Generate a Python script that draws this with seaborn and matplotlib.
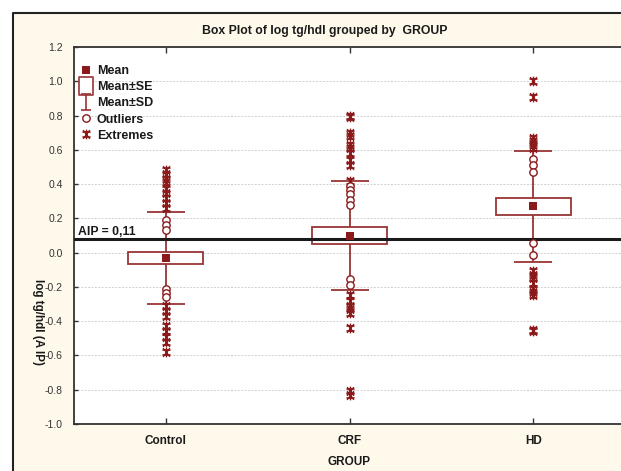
import numpy as np
import pandas as pd
import matplotlib
matplotlib.use("Agg")
import matplotlib.pyplot as plt
import seaborn as sns
from matplotlib.path import Path
from matplotlib.lines import Line2D
from matplotlib.patches import Rectangle

# ---------------- data ----------------
groups = ["Control", "CRF", "HD"]
means = [-0.03, 0.10, 0.27]
se = [0.035, 0.048, 0.048]
sd = [0.27, 0.32, 0.325]

ctrl_outliers = [0.19, 0.16, 0.13, -0.21, -0.235, -0.26]
ctrl_extremes = [0.48, 0.46, 0.43, 0.41, 0.37, 0.35, 0.32, 0.29, 0.26,
                 -0.31, -0.34, -0.37, -0.43, -0.46, -0.49, -0.52, -0.58]
crf_outliers = [0.39, 0.365, 0.34, 0.31, 0.28, -0.155, -0.186]
crf_extremes = [0.80, 0.79, 0.70, 0.68, 0.63, 0.61, 0.58, 0.54, 0.51, 0.42,
                -0.25, -0.28, -0.31, -0.33, -0.355, -0.44, -0.81, -0.83]
hd_outliers = [0.545, 0.51, 0.47, 0.054, -0.015]
hd_extremes = [1.00, 0.91, 0.67, 0.65, 0.63, 0.61,
               -0.11, -0.13, -0.15, -0.18, -0.21, -0.23, -0.25, -0.45, -0.46]

aip_value = 0.077
aip_label = "AIP = 0,11"
yticks = [-1.0, -0.8, -0.6, -0.4, -0.2, 0.0, 0.2, 0.4, 0.6, 0.8, 1.0, 1.2]
legend_labels = ["Mean", "Mean±SE", "Mean±SD", "Outliers", "Extremes"]
title = "Box Plot of log tg/hdl grouped by  GROUP"
xlabel = "GROUP"
ylabel = "log tg/hdl (A IP)"

outliers = {"Control": ctrl_outliers, "CRF": crf_outliers, "HD": hd_outliers}
extremes = {"Control": ctrl_extremes, "CRF": crf_extremes, "HD": hd_extremes}
df_out = pd.DataFrame([(g, v) for g in groups for v in outliers[g]], columns=["group", "value"])
df_ext = pd.DataFrame([(g, v) for g in groups for v in extremes[g]], columns=["group", "value"])
df_mean = pd.DataFrame({"group": groups, "value": means})

# ---------------- style ----------------
sns.set_theme(style="white")
plt.rcParams["font.family"] = ["Liberation Sans", "DejaVu Sans"]

RED = "#8B1A1A"
BOXRED = "#9A3535"
W, H = 621, 471

fig = plt.figure(figsize=(W / 100, H / 100), dpi=100)
fig.patch.set_facecolor("white")
fig.patch.set_linewidth(0)
# cream panel with a dark frame on its left and top edges (rest is cropped)
x0, y0 = 13 / W, 1 - 13 / H
fig.patches.append(Rectangle((x0, 0), 1 - x0, y0, transform=fig.transFigure,
                             facecolor="#FFF9EC", edgecolor="none", lw=0, zorder=-10))
fig.lines.append(Line2D([x0, x0, 1], [0, y0, y0], transform=fig.transFigure,
                        color="#222222", lw=1.5, zorder=-9))

AX_RIGHT = 625
ax = fig.add_axes([74 / W, 47 / H, (AX_RIGHT - 74) / W, (424 - 47) / H])
ax.set_zorder(1)
ax.set_facecolor("white")

ext_marker = Path(
    [(0, -1), (0, 1), (-0.85, 0.5), (0.85, 0.5), (-0.85, -0.5), (0.85, -0.5),
     (-0.7, -0.9), (0.7, 0.9), (-0.7, 0.9), (0.7, -0.9)],
    [Path.MOVETO, Path.LINETO, Path.MOVETO, Path.LINETO, Path.MOVETO, Path.LINETO,
     Path.MOVETO, Path.LINETO, Path.MOVETO, Path.LINETO])

xpos = np.arange(len(groups))
ax.errorbar(xpos, means, yerr=sd, fmt="none", ecolor=BOXRED, elinewidth=1.3,
            capsize=13.7, capthick=1.3, zorder=2)
ax.bar(xpos, [2 * s for s in se], bottom=[m - s for m, s in zip(means, se)],
       width=0.41, facecolor="white", edgecolor=BOXRED, linewidth=1.3, zorder=3)

sns.stripplot(data=df_ext, x="group", y="value", order=groups, jitter=False,
              marker=ext_marker, color=RED, edgecolor=RED, size=7, linewidth=1.0,
              ax=ax, zorder=4)
sns.stripplot(data=df_out, x="group", y="value", order=groups, jitter=False,
              marker="o", color="white", edgecolor=RED, linewidth=1.0, size=5.3,
              ax=ax, zorder=4)
sns.pointplot(data=df_mean, x="group", y="value", order=groups, markers="s",
              linestyle="none", color=RED, errorbar=None, markersize=5.8,
              markeredgewidth=0, ax=ax, zorder=5)

ax.axhline(aip_value, color="#1a1a1a", lw=2.2, zorder=3.5)
ax.annotate(aip_label, xy=(-0.5, aip_value), xytext=(4, 4), textcoords="offset pixels",
            ha="left", va="baseline", fontsize=8.8, fontweight="bold", color="#1a1a1a")

ax.set_xlim(-0.5, 2.5)
ax.set_ylim(-1.0, 1.2)
ax.set_yticks(yticks)
ax.set_yticklabels([f"{v:.1f}" for v in yticks])
ax.set_xlabel("")
ax.set_ylabel("")
ax.yaxis.grid(True, color="#d0d0d0", linestyle=(0, (2, 1.5)), lw=0.7)
ax.xaxis.grid(False)
ax.set_axisbelow(True)

for side in ["left", "bottom", "top"]:
    ax.spines[side].set_visible(True)
    ax.spines[side].set_color("#333333")
    ax.spines[side].set_linewidth(1.3)
ax.spines["right"].set_visible(False)

ax.tick_params(axis="x", direction="in", top=True, bottom=True, length=4, width=1,
               color="#333333", labelsize=8.5, pad=8, labelcolor="#1a1a1a")
for lbl in ax.get_xticklabels():
    lbl.set_fontweight("bold")
ax.tick_params(axis="y", direction="in", left=True, right=False, length=3, width=1,
               color="#333333", labelsize=7.5, pad=8, labelcolor="#333333")

fig.text(325 / W, 1 - 31 / H, title, ha="center", va="center", fontsize=8.8,
         fontweight="bold", color="#1a1a1a")
fig.text(349 / W, 1 - 462 / H, xlabel, ha="center", va="center", fontsize=8.5,
         fontweight="bold", color="#1a1a1a")
fig.text(38 / W, 1 - 322 / H, ylabel, ha="center", va="center", rotation=270,
         fontsize=8.4, fontweight="bold", color="#1a1a1a")

se_path = Path([(-0.75, -1), (0.75, -1), (0.75, 1), (-0.75, 1), (-0.75, -1)],
               [Path.MOVETO, Path.LINETO, Path.LINETO, Path.LINETO, Path.CLOSEPOLY])
sd_path = Path([(-0.6, 1), (0.6, 1), (0, 1), (0, -1), (-0.6, -1), (0.6, -1)],
               [Path.MOVETO, Path.LINETO, Path.MOVETO, Path.LINETO, Path.MOVETO, Path.LINETO])
handles = [
    Line2D([], [], marker="s", ls="none", color=RED, markersize=6, markeredgewidth=0),
    Line2D([], [], marker=se_path, ls="none", markerfacecolor="white",
           markeredgecolor=BOXRED, markersize=12.5, markeredgewidth=1.2),
    Line2D([], [], marker=sd_path, ls="none", markerfacecolor="none",
           markeredgecolor=BOXRED, markersize=12, markeredgewidth=1.2),
    Line2D([], [], marker="o", ls="none", markerfacecolor="white",
           markeredgecolor=RED, markersize=5.3, markeredgewidth=1.0),
    Line2D([], [], marker=ext_marker, ls="none", color=RED, markersize=7,
           markeredgewidth=1.0),
]
leg = ax.legend(handles, legend_labels, loc="upper left",
                bbox_to_anchor=(-0.005, 0.975),
                frameon=False, handlelength=1.0, handletextpad=0.35, labelspacing=0.33,
                borderaxespad=0.3, prop={"size": 9, "weight": "bold"})
for t in leg.get_texts():
    t.set_color("#1a1a1a")

fig.savefig("out.png", dpi=100, facecolor="white", edgecolor="none")
